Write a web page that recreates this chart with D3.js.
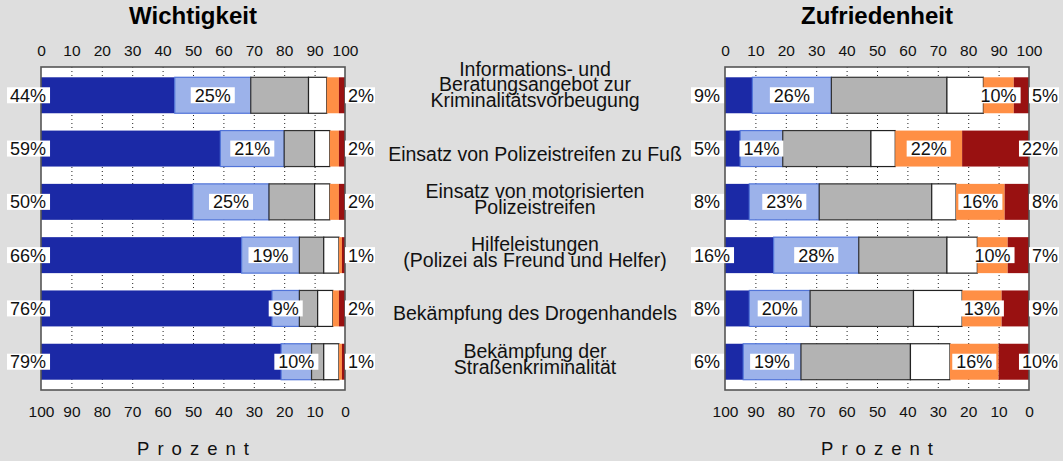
<!DOCTYPE html>
<html><head><meta charset="utf-8">
<script src="https://cdn.jsdelivr.net/npm/d3@7"></script>
<style>
html,body{margin:0;padding:0;background:#dedede;}
svg{display:block;font-family:"Liberation Sans",Arial,sans-serif;}
</style></head>
<body>
<svg id="chart" width="1063" height="461"></svg>
<script>
// ---- data ----
const items = [
  ["Informations- und","Beratungsangebot zur","Kriminalitätsvorbeugung"],
  ["Einsatz von Polizeistreifen zu Fuß"],
  ["Einsatz von motorisierten","Polizeistreifen"],
  ["Hilfeleistungen","(Polizei als Freund und Helfer)"],
  ["Bekämpfung des Drogenhandels"],
  ["Bekämpfung der","Straßenkriminalität"]
];
// Wichtigkeit (importance), six answer levels, left to right
const wLevel1 = [44,59,50,66,76,79];
const wLevel2 = [25,21,25,19,9,10];
const wLevel3 = [19,10,15,8,6,4];
const wLevel4 = [6,5,5,5,5,5];
const wLevel5 = [4,3,3,1,2,1];
const wLevel6 = [2,2,2,1,2,1];
// Zufriedenheit (satisfaction)
const zLevel1 = [9,5,8,16,8,6];
const zLevel2 = [26,14,23,28,20,19];
const zLevel3 = [38,29,37,29,34,36];
const zLevel4 = [12,8,8,10,16,13];
const zLevel5 = [10,22,16,10,13,16];
const zLevel6 = [5,22,8,7,9,10];
const tickValues = [0,10,20,30,40,50,60,70,80,90,100];
const panelTitles = ["Wichtigkeit","Zufriedenheit"];
const axisTitle = "Prozent";

// ---- styles ----
const fills = ["#1b29a6","#9cb2ea","#b3b3b3","#ffffff","#ff8f45","#991111"];
const strokes = ["none","#5174d8","#333333","#222222","none","none"];
const keys = ["l1","l2","l3","l4","l5","l6"];

const svg = d3.select("#chart");
const ids = d3.range(items.length);
const y = d3.scaleBand().domain(ids).range([67,390]).paddingInner(0.325).paddingOuter(0.193);

function buildRows(levels){
  return ids.map(i => {
    const r = {id:i};
    keys.forEach((k,j) => r[k] = levels[j][i]);
    return r;
  });
}

function drawPanel(x0, x1, title, levels){
  const g = svg.append("g");
  const x = d3.scaleLinear().domain([0,100]).range([x0,x1]);
  const xb = d3.scaleLinear().domain([100,0]).range([x0,x1]);
  const top = 67, bottom = 390;
  g.append("rect").attr("x",x0).attr("y",top).attr("width",x1-x0).attr("height",bottom-top).attr("fill","#fff");
  g.selectAll("line.grid").data(tickValues.slice(1,-1)).join("line")
    .attr("x1",d=>x(d)+0.5).attr("x2",d=>x(d)+0.5).attr("y1",top).attr("y2",bottom)
    .attr("stroke","#222").attr("stroke-width",1).attr("stroke-dasharray","1,3");
  const rows = buildRows(levels);
  const stack = d3.stack().keys(keys)(rows);
  stack.forEach((layer,j) => {
    g.append("g").selectAll("rect").data(layer).join("rect")
      .attr("x",d=>x(d[0])).attr("y",d=>y(d.data.id))
      .attr("width",d=>x(d[1])-x(d[0])).attr("height",y.bandwidth())
      .attr("fill",fills[j]).attr("stroke",strokes[j]).attr("stroke-width",1.2);
  });
  g.append("rect").attr("x",x0).attr("y",top).attr("width",x1-x0).attr("height",bottom-top)
    .attr("fill","none").attr("stroke","#555").attr("stroke-width",1.6);
  const at = g.append("g").attr("transform",`translate(0,${top-11})`)
    .call(d3.axisTop(x).tickValues(tickValues).tickSize(0).tickPadding(0));
  const ab = g.append("g").attr("transform",`translate(0,${bottom+27})`)
    .call(d3.axisBottom(xb).tickValues(tickValues).tickSize(0).tickPadding(0));
  [at,ab].forEach(a => {
    a.select(".domain").remove();
    a.selectAll("text").attr("font-size","15.5px").attr("fill","#111")
      .attr("font-family","Liberation Sans, Arial, sans-serif").attr("dy",0);
  });
  const cx = (x0+x1)/2;
  g.append("text").attr("x",cx).attr("y",23.5).attr("text-anchor","middle")
    .attr("font-size","24px").attr("font-weight","bold").attr("fill","#000").text(title);
  g.append("text").attr("x",cx+4).attr("y",455).attr("text-anchor","middle")
    .attr("font-size","18.5px").attr("letter-spacing","8px").attr("fill","#111").text(axisTitle);

  function label(tx, cy, txt, anchor, padL, padR){
    const lg = g.append("g");
    const box = lg.append("rect").attr("fill","#fff");
    const t = lg.append("text").attr("y",cy+6.4).attr("font-size","18px").attr("fill","#111").text(txt);
    t.attr("x",tx).attr("text-anchor",anchor);
    const bb = t.node().getBBox();
    const bx0 = bb.x - padL, bx1 = bb.x + bb.width + padR;
    box.attr("x",bx0).attr("y",cy-8).attr("width",bx1-bx0).attr("height",16);
  }
  rows.forEach((r,i) => {
    const cy = y(i) + y.bandwidth()/2;
    const vals = keys.map(k=>r[k]);
    label(x0-31, cy, vals[0]+"%", "start", 3, 4);
    label(x1+29, cy, vals[5]+"%", "end", 3, 1);
    let cum = 0;
    vals.forEach((v,j) => {
      if ((j===1 || j===4) && v >= 5){
        label(x(cum + v/2), cy, v+"%", "middle", 4, 4);
      }
      cum += v;
    });
  });
}

drawPanel(41, 345, panelTitles[0], [wLevel1,wLevel2,wLevel3,wLevel4,wLevel5,wLevel6]);
drawPanel(725, 1029, panelTitles[1], [zLevel1,zLevel2,zLevel3,zLevel4,zLevel5,zLevel6]);

const mid = svg.append("g");
items.forEach((lines,i) => {
  const cy = y(i) + y.bandwidth()/2;
  const lastBase = cy + 12;
  const n = lines.length;
  const t = mid.append("text").attr("text-anchor","middle").attr("font-size","19.5px").attr("fill","#111");
  lines.forEach((ln,k) => {
    t.append("tspan").attr("x",535).attr("y",lastBase - (n-1-k)*15.8).text(ln);
  });
});
</script>
</body></html>
